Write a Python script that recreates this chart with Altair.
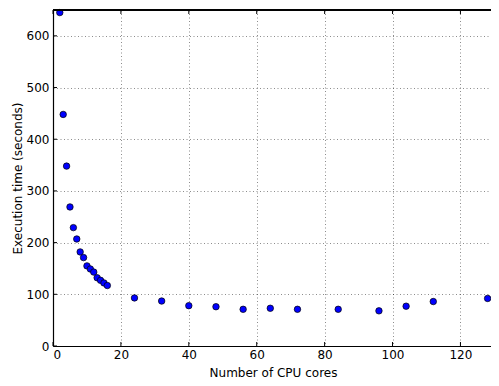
import altair as alt
import pandas as pd

cores = [2, 3, 4, 5, 6, 7, 8, 9, 10, 11, 12, 13, 14, 15, 16, 24, 32, 40, 48, 56, 64, 72, 84, 96, 104, 112, 128]
times = [645, 448, 348, 269, 229, 207, 182, 171, 155, 149, 143, 132, 127, 122, 117,
         93, 87, 78, 76, 71, 73, 71, 71, 68, 77, 86, 92]
x_ticks = [0, 20, 40, 60, 80, 100, 120]
y_ticks = [0, 100, 200, 300, 400, 500, 600]

df = pd.DataFrame({"cores": cores, "time": times})
dfx = pd.DataFrame({"cores": x_ticks})
dfy = pd.DataFrame({"time": y_ticks})

W, H = 438, 336
FONT = "DejaVu Sans"

xscale = alt.Scale(domain=[0, 129], nice=False, zero=False)
yscale = alt.Scale(domain=[0, 650], nice=False, zero=False)

xaxis = alt.Axis(values=x_ticks, tickSize=0, labelPadding=3, domainColor="#000",
                 domainWidth=1.2, labelColor="#000", labelFont=FONT, labelFontSize=12,
                 titleFont=FONT, titleFontSize=12, titleFontWeight="normal",
                 titleColor="#000", titleX=W / 2 + 1, titleY=30, titleBaseline="alphabetic",
                 grid=True, gridColor="#000", gridOpacity=0.45, gridDash=[1, 2.5],
                 gridWidth=1)
yaxis = alt.Axis(values=y_ticks, tickSize=0, labelPadding=4, domainColor="#000",
                 domainWidth=1.2, labelColor="#000", labelFont=FONT, labelFontSize=12,
                 titleFont=FONT, titleFontSize=12, titleFontWeight="normal",
                 titleColor="#000", titleX=-36, titleY=H / 2, titleAngle=-90,
                 titleAlign="center", titleBaseline="middle",
                 grid=True, gridColor="#000", gridOpacity=0.45, gridDash=[1, 2.5],
                 gridWidth=1)

XT = "Number of CPU cores"
YT = "Execution time (seconds)"

points = alt.Chart(df).mark_circle(
    size=42, color="#0000ff", opacity=1, stroke="#000", strokeWidth=0.7
).encode(
    x=alt.X("cores:Q", scale=xscale, title=XT, axis=xaxis),
    y=alt.Y("time:Q", scale=yscale, title=YT, axis=yaxis),
)

xtick_bottom = alt.Chart(dfx).mark_rule(color="#000", strokeWidth=1).encode(
    x=alt.X("cores:Q", scale=xscale, title=XT, axis=xaxis), y=alt.value(H), y2=alt.value(H - 4))
xtick_top = alt.Chart(dfx).mark_rule(color="#000", strokeWidth=1).encode(
    x=alt.X("cores:Q", scale=xscale, title=XT, axis=xaxis), y=alt.value(0), y2=alt.value(4))
ytick_left = alt.Chart(dfy).mark_rule(color="#000", strokeWidth=1).encode(
    y=alt.Y("time:Q", scale=yscale, title=YT, axis=yaxis), x=alt.value(0), x2=alt.value(4))
top_spine = alt.Chart(dfy).mark_rule(color="#000", strokeWidth=1.2).encode(
    x=alt.value(0), x2=alt.value(W), y=alt.value(0))

chart = alt.layer(points, xtick_bottom, xtick_top, ytick_left, top_spine).properties(
    width=W, height=H,
    autosize=alt.AutoSizeParams(type="none"),
    padding={"left": 45, "top": 2, "right": 0, "bottom": 32},
).configure_view(stroke=None).configure(background="white")

chart.save("out.html", embed_options={"renderer": "svg", "actions": False})
